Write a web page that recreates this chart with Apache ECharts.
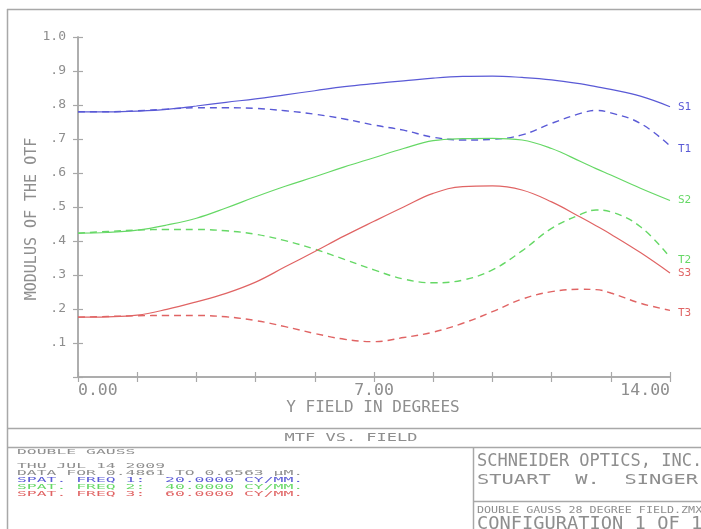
<!DOCTYPE html>
<html><head><meta charset="utf-8">
<script src="https://cdn.jsdelivr.net/npm/echarts@6/dist/echarts.min.js"></script>
<style>html,body{margin:0;padding:0;background:#fff}#c{width:701px;height:529px}</style>
</head><body><div id="c"></div>
<script>
// ---- data ----
const fieldDeg = [0,0.7,1.4,2.1,2.8,3.5,4.2,4.9,5.6,6.3,7.0,7.7,8.4,9.1,9.8,10.5,11.2,11.9,12.25,12.6,13.3,14.0];
const s1 = [0.780,0.780,0.782,0.787,0.797,0.808,0.818,0.830,0.842,0.854,0.863,0.871,0.879,0.884,0.885,0.881,0.874,0.862,0.854,0.846,0.826,0.795];
const t1 = [0.780,0.780,0.783,0.788,0.792,0.792,0.790,0.783,0.773,0.759,0.741,0.726,0.705,0.697,0.699,0.712,0.746,0.776,0.784,0.777,0.746,0.680];
const s2 = [0.423,0.425,0.432,0.447,0.467,0.497,0.530,0.561,0.589,0.618,0.645,0.672,0.695,0.701,0.702,0.697,0.672,0.633,0.613,0.594,0.555,0.519];
const t2 = [0.423,0.428,0.432,0.434,0.434,0.430,0.420,0.401,0.376,0.346,0.315,0.288,0.277,0.285,0.315,0.371,0.437,0.479,0.491,0.486,0.442,0.352];
const s3 = [0.176,0.177,0.182,0.199,0.221,0.246,0.279,0.324,0.369,0.415,0.458,0.500,0.540,0.560,0.562,0.550,0.515,0.469,0.445,0.420,0.366,0.306];
const t3 = [0.176,0.178,0.180,0.181,0.181,0.177,0.166,0.148,0.128,0.111,0.104,0.116,0.132,0.158,0.192,0.229,0.251,0.258,0.257,0.247,0.217,0.196];
const seriesNames = ['S1','T1','S2','T2','S3','T3'];
const yTickLabels = ['.1','.2','.3','.4','.5','.6','.7','.8','.9','1.0'];
const xTickLabels = {0:'0.00',7:'7.00',14:'14.00'};
const legendLines = [
  'DOUBLE GAUSS',
  'THU JUL 14 2009',
  'DATA FOR 0.4861 TO 0.6563 \u00B5M.',
  'SPAT. FREQ 1:  20.0000 CY/MM.',
  'SPAT. FREQ 2:  40.0000 CY/MM.',
  'SPAT. FREQ 3:  60.0000 CY/MM.'
];
const titleText = 'MTF VS. FIELD';
const yTitle = 'MODULUS OF THE OTF';
const xTitle = 'Y FIELD IN DEGREES';
const company = ['SCHNEIDER OPTICS, INC.','STUART  W.  SINGER'];
const fileLine = 'DOUBLE GAUSS 28 DEGREE FIELD.ZMX';
const configLine = 'CONFIGURATION 1 OF 1';

// ---- styles ----
const BLUE='#5a5ad6', GREEN='#66d866', RED='#e06464', GRAY='#8e8e8e', FRAME='#a8a8a8';
const MONO='"DejaVu Sans Mono", "Liberation Mono", monospace';
const colors=[BLUE,BLUE,GREEN,GREEN,RED,RED];
const allData=[s1,t1,s2,t2,s3,t3];

const series = allData.map((vals,i)=>({
  name: seriesNames[i], type:'line', xAxisIndex:0, yAxisIndex:0,
  data: fieldDeg.map((x,k)=>[x,vals[k]]),
  smooth:0.4, showSymbol:false, symbol:'none', silent:true,
  lineStyle:{color:colors[i], width: i%2? 1.4:1.2, type: i%2? [7,5]:'solid'},
  endLabel:{show:true, formatter:p=>p.seriesName, color:colors[i], fontFamily:MONO, fontSize:11,
            distance:8, offset:[0, i%2?3:0]}
}));

const g=[];
const L=(x1,y1,x2,y2)=>g.push({type:'line',silent:true,shape:{x1,y1,x2,y2},style:{stroke:FRAME,lineWidth:1.5}});
L(7.5,9,7.5,529); L(7,9.5,701,9.5); L(7,428.5,701,428.5); L(7,447.5,701,447.5);
L(473.5,447,473.5,529); L(473,501.5,701,501.5);
g.push({type:'text',silent:true,x:32,y:219,rotation:Math.PI/2,
  style:{text:yTitle,fill:GRAY,font:'15px '+MONO,textAlign:'center',textVerticalAlign:'middle'}});
g.push({type:'text',silent:true,x:373,y:408,
  style:{text:xTitle,fill:GRAY,font:'16px '+MONO,textAlign:'center',textVerticalAlign:'middle'}});
g.push({type:'text',silent:true,x:351,y:438,scaleY:0.6,
  style:{text:titleText,fill:GRAY,font:'17px '+MONO,textAlign:'center',textVerticalAlign:'middle'}});
const legY=[452,466,473,480,487,494];
const legC=[GRAY,GRAY,GRAY,BLUE,GREEN,RED];
legendLines.forEach((s,i)=>g.push({type:'text',silent:true,x:17,y:legY[i],scaleY:0.45,
  style:{text:s,fill:legC[i],font:'16.4px '+MONO,textAlign:'left',textVerticalAlign:'middle'}}));
g.push({type:'text',silent:true,x:477,y:462,
  style:{text:company[0],fill:GRAY,font:'17px '+MONO,textAlign:'left',textVerticalAlign:'middle'}});
g.push({type:'text',silent:true,x:477,y:480,scaleX:1.2,scaleY:0.8,
  style:{text:company[1],fill:GRAY,font:'17px '+MONO,textAlign:'left',textVerticalAlign:'middle'}});
g.push({type:'text',silent:true,x:477,y:510.5,scaleY:0.75,
  style:{text:fileLine,fill:GRAY,font:'11.7px '+MONO,textAlign:'left',textVerticalAlign:'middle'}});
g.push({type:'text',silent:true,x:477,y:525,scaleX:1.1,
  style:{text:configLine,fill:GRAY,font:'17px '+MONO,textAlign:'left',textVerticalAlign:'middle'}});

const axLine={show:true,lineStyle:{color:FRAME,width:1.5}};
const tick={show:true,inside:true,length:5,lineStyle:{color:FRAME,width:1.2}};
const option={
  animation:false, backgroundColor:'#fff',
  grid:{left:78,right:31,top:37,bottom:152,containLabel:false},
  xAxis:[
    {type:'value',min:0,max:14,interval:1.4,position:'bottom',axisLine:axLine,axisTick:tick,splitLine:{show:false},
     axisLabel:{color:GRAY,fontFamily:MONO,fontSize:16.5,margin:5,alignMinLabel:'left',alignMaxLabel:'right',
       formatter:v=>{for(const k in xTickLabels){if(Math.abs(v-k)<1e-6)return xTickLabels[k];}return '';}}},
    {type:'value',min:0,max:14,interval:1.4,position:'top',axisLine:axLine,axisTick:tick,splitLine:{show:false},axisLabel:{show:false}}
  ],
  yAxis:[
    {type:'value',min:0,max:1,interval:0.1,position:'left',axisLine:axLine,axisTick:tick,splitLine:{show:false},
     axisLabel:{color:GRAY,fontFamily:MONO,fontSize:13,margin:12,verticalAlign:'middle',padding:[9,0,0,0],
       formatter:v=>{const k=Math.round(v*10);return k>0?yTickLabels[k-1]:'';}}},
    {type:'value',min:0,max:1,interval:0.1,position:'right',axisLine:axLine,axisTick:tick,splitLine:{show:false},axisLabel:{show:false}}
  ],
  series:series,
  graphic:g
};
echarts.init(document.getElementById('c'),null,{renderer:'canvas'}).setOption(option);
</script></body></html>
